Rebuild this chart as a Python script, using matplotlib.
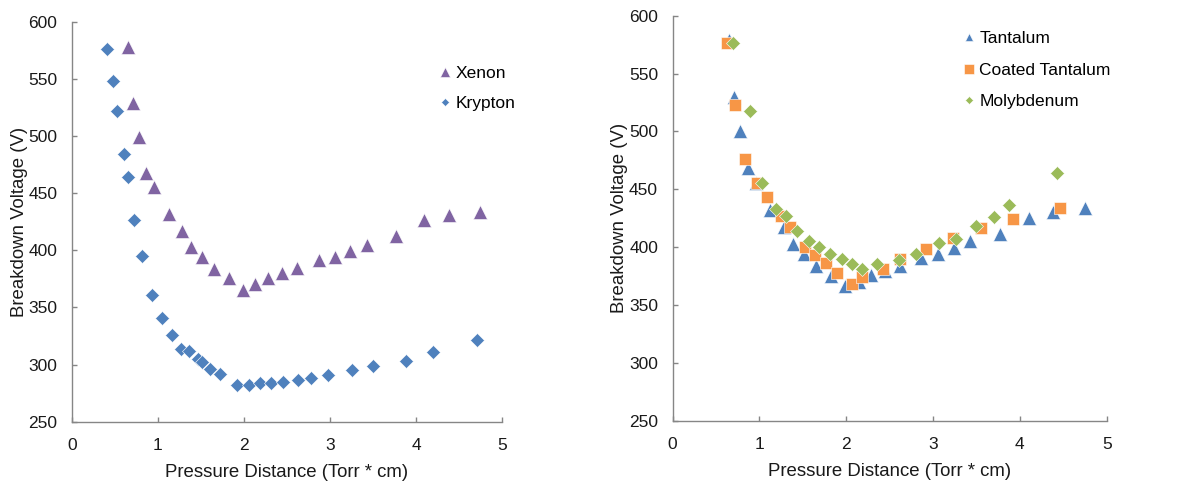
import matplotlib
matplotlib.use('Agg')
import matplotlib.pyplot as plt

plt.rcParams['font.family'] = ['Liberation Sans', 'DejaVu Sans']

# left panel: gases
xenon_pd = [0.650, 0.708, 0.778, 0.863, 0.952, 1.126, 1.281, 1.385, 1.513, 1.649,
            1.823, 1.985, 2.129, 2.279, 2.446, 2.620, 2.868, 3.053, 3.235, 3.425,
            3.762, 4.094, 4.389, 4.741]
xenon_v = [578, 529, 499, 468, 455, 432, 416.5, 403, 394.5, 384,
           376, 365.5, 370.5, 375.5, 380.5, 384.5, 391.5, 394.5, 399.5, 405,
           412.5, 426.5, 430.5, 433.5]

krypton_pd = [0.406, 0.472, 0.519, 0.604, 0.646, 0.724, 0.809, 0.925, 1.041, 1.161,
              1.273, 1.358, 1.463, 1.517, 1.610, 1.718, 1.916, 2.063, 2.183, 2.310,
              2.457, 2.632, 2.783, 2.980, 3.251, 3.495, 3.878, 4.199, 4.706]
krypton_v = [576, 548.5, 522, 484, 464, 426.5, 395, 361, 341, 326,
             313.5, 312, 304.5, 302, 296.5, 291.5, 282.5, 282.5, 284, 284,
             284.5, 286.5, 288, 291, 295, 298.5, 303.5, 311, 321.5]

# right panel: electrode materials
tantalum_pd = [0.649, 0.707, 0.776, 0.864, 0.956, 1.125, 1.287, 1.386, 1.513, 1.651,
               1.828, 1.985, 2.143, 2.285, 2.442, 2.619, 2.865, 3.057, 3.241, 3.425,
               3.767, 4.101, 4.386, 4.750]
tantalum_v = [579, 530, 500, 468, 455, 432, 417, 402.5, 394, 384,
              375, 366, 369.5, 375.5, 379.5, 384, 391, 394, 399.5, 405,
              411.5, 425.5, 430.5, 434]

coated_pd = [0.622, 0.718, 0.837, 0.972, 1.083, 1.248, 1.352, 1.525, 1.644, 1.767,
             1.889, 2.062, 2.181, 2.427, 2.623, 2.915, 3.230, 3.548, 3.917, 4.459]
coated_v = [576.5, 522.5, 476, 455.5, 443.5, 427, 417, 400, 393, 386,
            377.5, 368.5, 374, 381.5, 389.5, 398, 407.5, 416.5, 424.5, 434]

molyb_pd = [0.699, 0.887, 1.025, 1.187, 1.310, 1.436, 1.567, 1.686, 1.813, 1.951,
            2.066, 2.177, 2.350, 2.604, 2.807, 3.072, 3.260, 3.498, 3.698, 3.879,
            4.432]
molyb_v = [576, 518, 455, 433, 427, 414, 405.5, 400.5, 394, 390,
           385, 381.5, 385, 389, 394, 403.5, 407, 418, 426, 436,
           464]

purple = '#8064A2'
blue = '#4F81BD'
orange = '#F79646'
green = '#9BBB59'
spine_col = '#868686'
fs = 12.5

tri_ms = 9.5
sq_ms = 8.5
dia_ms = 6.8

fig = plt.figure(figsize=(11.82, 4.84), dpi=100)
ax1 = fig.add_axes([0.0609, 0.1287, 0.3638, 0.8264])
ax2 = fig.add_axes([0.5691, 0.1308, 0.3672, 0.8368])

ax1.plot(xenon_pd, xenon_v, ls='none', marker='^', ms=tri_ms, color=purple,
         mec='white', mew=0.4, label='Xenon')
ax1.plot(krypton_pd, krypton_v, ls='none', marker='D', ms=dia_ms, color=blue,
         mec='white', mew=0.4, label='Krypton')

ax2.plot(tantalum_pd, tantalum_v, ls='none', marker='^', ms=tri_ms, color=blue,
         mec='white', mew=0.4, label='Tantalum')
ax2.plot(coated_pd, coated_v, ls='none', marker='s', ms=sq_ms, color=orange,
         mec='white', mew=0.4, label='Coated Tantalum')
ax2.plot(molyb_pd, molyb_v, ls='none', marker='D', ms=dia_ms, color=green,
         mec='white', mew=0.4, label='Molybdenum')

for ax in (ax1, ax2):
    ax.set_xlim(0, 5)
    ax.set_ylim(250, 600)
    ax.set_xticks([0, 1, 2, 3, 4, 5])
    ax.set_yticks([250, 300, 350, 400, 450, 500, 550, 600])
    for s in ['top', 'right']:
        ax.spines[s].set_visible(False)
    for s in ['left', 'bottom']:
        ax.spines[s].set_color(spine_col)
        ax.spines[s].set_linewidth(1.0)
    ax.tick_params(direction='in', length=3.5, width=1.0, color=spine_col,
                   labelsize=fs, labelcolor='#1a1a1a')
    ax.tick_params(axis='y', pad=10.5)
    ax.tick_params(axis='x', pad=12)
    ax.set_xlabel('Pressure Distance (Torr * cm)', fontsize=13.4, color='#1a1a1a', labelpad=8)
    ax.set_ylabel('Breakdown Voltage (V)', fontsize=13.4, color='#1a1a1a', labelpad=0.5)

leg1 = ax1.legend(loc='upper left', bbox_to_anchor=(0.856, 0.889), frameon=False,
                  fontsize=fs, borderpad=0, borderaxespad=0, handlelength=0.6,
                  handletextpad=0.28, labelspacing=0.86)
leg2 = ax2.legend(loc='upper left', bbox_to_anchor=(0.671, 0.962), frameon=False,
                  fontsize=fs, borderpad=0, borderaxespad=0, handlelength=0.6,
                  handletextpad=0.28, labelspacing=0.94)

# legend keys are drawn smaller than the plotted markers
for h, size in zip(leg1.legend_handles, [6.5, 4.0]):
    h.set_markersize(size)
for h, size in zip(leg2.legend_handles, [6.0, 6.6, 4.0]):
    h.set_markersize(size)

fig.savefig('out.png', dpi=100)
